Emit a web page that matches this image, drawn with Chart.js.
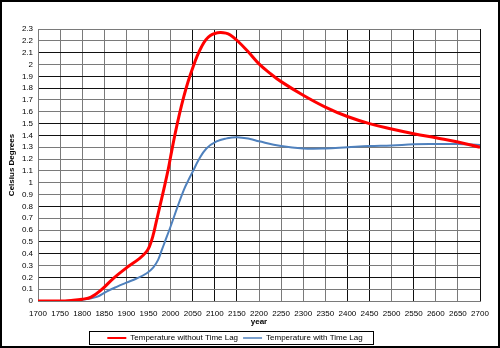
<!DOCTYPE html>
<html>
<head>
<meta charset="utf-8">
<script src="https://cdn.jsdelivr.net/npm/chart.js@4/dist/chart.umd.min.js"></script>
<style>
  body { margin: 0; background: #fff; }
  #wrap { width: 500px; height: 348px; border: 2px solid #000; box-sizing: border-box; background: #fff; }
  canvas { display: block; }
</style>
</head>
<body>
<div id="wrap"><canvas id="tempChart" width="496" height="344"></canvas></div>
<script>
// temperature rise, no lag
const noLagYears = [1700, 1750, 1775, 1800, 1820, 1845, 1870, 1900, 1930, 1945, 1952, 1960, 1967, 1975, 1985, 1995, 2000, 2010, 2020, 2030, 2040, 2050, 2060, 2070, 2080, 2090, 2100, 2112, 2125, 2135, 2150, 2175, 2200, 2225, 2250, 2300, 2350, 2400, 2450, 2500, 2550, 2600, 2650, 2700];
const noLagTemps = [0, 0, 0.005, 0.015, 0.033, 0.1, 0.19, 0.28, 0.36, 0.415, 0.46, 0.55, 0.66, 0.79, 0.95, 1.12, 1.22, 1.41, 1.58, 1.73, 1.86, 1.97, 2.07, 2.15, 2.21, 2.245, 2.262, 2.27, 2.265, 2.25, 2.205, 2.11, 2.005, 1.925, 1.855, 1.74, 1.64, 1.56, 1.5, 1.455, 1.415, 1.38, 1.345, 1.3];

// temperature rise with time lag
const lagYears = [1700, 1750, 1800, 1833, 1855, 1878, 1900, 1923, 1946, 1961, 1972, 1980, 1987, 2000, 2016, 2030, 2040, 2051, 2063, 2081, 2104, 2127, 2150, 2180, 2200, 2250, 2300, 2350, 2400, 2450, 2500, 2550, 2600, 2650, 2700];
const lagTemps = [0, 0, 0.01, 0.035, 0.08, 0.12, 0.155, 0.19, 0.235, 0.285, 0.35, 0.43, 0.5, 0.63, 0.8, 0.94, 1.02, 1.1, 1.19, 1.29, 1.35, 1.375, 1.385, 1.37, 1.35, 1.31, 1.29, 1.29, 1.3, 1.31, 1.315, 1.325, 1.327, 1.327, 1.32];

const seriesNames = ['Temperature without Time Lag', 'Temperature with Time Lag'];

// gridlines drawn darker than the rest
const darkYearLines = [2050, 2100, 2150, 2400, 2450, 2550, 2700];
const darkTempLines = [0.2, 0.4, 0.5, 0.8, 1.4, 1.5, 1.8, 1.9, 2.1];

const toPoints = (xs, ys) => xs.map((x, i) => ({ x, y: ys[i] }));
const font = { family: 'Liberation Sans, Arial, sans-serif', size: 8 };
const boldFont = { family: 'Liberation Sans, Arial, sans-serif', size: 8, weight: 'bold' };

const legendFrame = {
  id: 'legendFrame',
  beforeInit(chart) {
    // fixed legend strip height
    const fit = chart.legend.fit;
    chart.legend.fit = function () {
      fit.call(this);
      this.height = 17;
    };
  },
  afterLayout(chart) {
    chart.legend.left -= 6;
    chart.legend.right -= 6;
  },
  afterDraw(chart) {
    const boxes = chart.legend.legendHitBoxes;
    if (!boxes || !boxes.length) return;
    const first = boxes[0], last = boxes[boxes.length - 1];
    const ctx = chart.ctx;
    const x0 = Math.round(first.left - 18) + 0.5;
    const x1 = Math.round(last.left + last.width + 10) + 0.5;
    const yc = first.top + first.height / 2;
    ctx.save();
    ctx.strokeStyle = '#000';
    ctx.lineWidth = 1;
    ctx.strokeRect(x0, Math.round(yc - 7) + 0.5, x1 - x0, 13);
    ctx.restore();
  }
};

new Chart(document.getElementById('tempChart'), {
  type: 'line',
  data: {
    datasets: [
      {
        label: seriesNames[0],
        data: toPoints(noLagYears, noLagTemps),
        borderColor: '#ff0000',
        borderWidth: 3,
        pointRadius: 0,
        tension: 0.4
      },
      {
        label: seriesNames[1],
        data: toPoints(lagYears, lagTemps),
        borderColor: '#4f81bd',
        borderWidth: 2,
        pointRadius: 0,
        tension: 0.4
      }
    ]
  },
  options: {
    responsive: false,
    animation: false,
    layout: { padding: { top: 27, right: 18, bottom: 0, left: 0 } },
    plugins: {
      tooltip: { enabled: false },
      legend: {
        position: 'bottom',
        labels: {
          font,
          color: '#000',
          usePointStyle: true,
          pointStyle: 'line',
          pointStyleWidth: 19,
          padding: 5,
          generateLabels(chart) {
            const items = Chart.defaults.plugins.legend.labels.generateLabels(chart);
            items.forEach(it => { it.lineWidth = it.datasetIndex === 0 ? 2 : 1.5; });
            return items;
          }
        }
      }
    },
    scales: {
      x: {
        type: 'linear',
        min: 1700,
        max: 2700,
        afterFit(axis) { axis.height = 28; },
        ticks: {
          stepSize: 50,
          autoSkip: false,
          maxRotation: 0,
          padding: 8,
          color: '#000',
          font,
          callback: v => String(v)
        },
        grid: {
          drawTicks: false,
          lineWidth: 1,
          color: c => darkYearLines.includes(c.tick && c.tick.value) ? '#111' : '#7a7a7a'
        },
        border: { color: '#7a7a7a' },
        title: { display: true, text: 'year', font: boldFont, color: '#000', padding: { top: 0, bottom: 2 } }
      },
      y: {
        min: 0,
        max: 2.3,
        afterFit(axis) { axis.width = 36; },
        ticks: {
          stepSize: 0.1,
          autoSkip: false,
          padding: 5,
          color: '#000',
          font,
          callback: v => String(Math.round(v * 10) / 10)
        },
        grid: {
          drawTicks: false,
          lineWidth: 1,
          color: c => c.tick && darkTempLines.some(t => Math.abs(t - c.tick.value) < 1e-6) ? '#111' : '#7a7a7a'
        },
        border: { color: '#7a7a7a' },
        title: { display: true, text: 'Celsius Degrees', font: boldFont, color: '#000', padding: { top: 5, bottom: 0 } }
      }
    }
  },
  plugins: [legendFrame]
});
</script>
</body>
</html>
